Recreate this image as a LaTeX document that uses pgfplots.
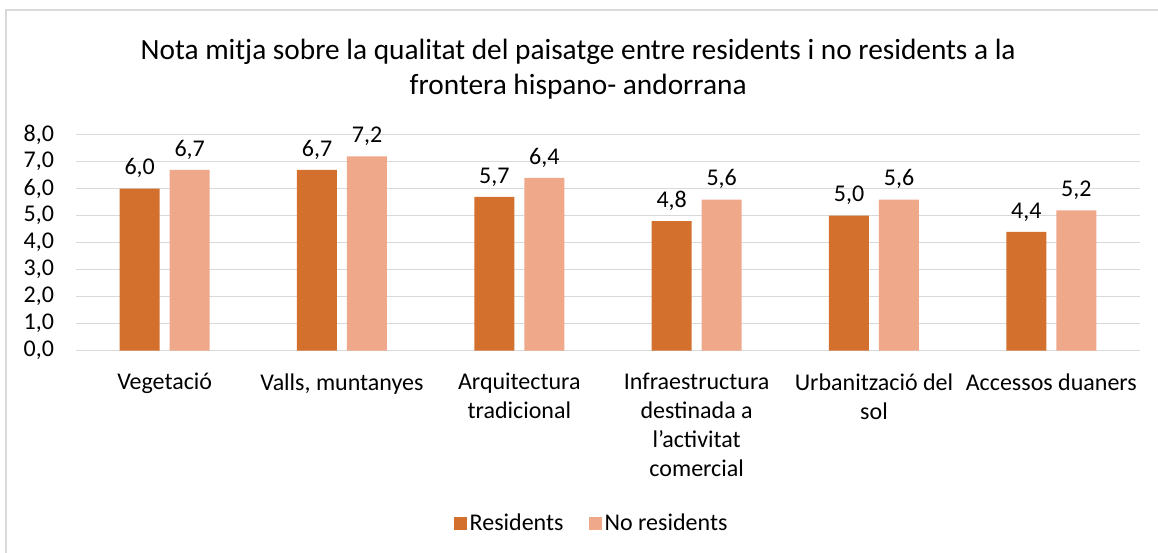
\documentclass[border=0pt]{standalone}
\usepackage{pgfplots}
\pgfplotsset{compat=1.18}
\usepackage{fontspec}
\setmainfont{Carlito}
\definecolor{res}{HTML}{D3702D}
\definecolor{nores}{HTML}{F0A88A}
\definecolor{grd}{HTML}{D9D9D9}

\begin{document}
\begin{tikzpicture}
\path[use as bounding box] (0,0) rectangle (868.5pt,414.75pt);
\draw[grd, line width=1.1pt] (4.5pt,0) -- (4.5pt,407.25pt) -- (868.5pt,407.25pt);
\begin{axis}[
    at={(57pt,151.7pt)}, anchor=south west,
    width=798pt, height=162pt, scale only axis,
    ybar=7.5pt, bar width=30pt,
    xmin=-0.5, xmax=5.5, ymin=0, ymax=8,
    xtick={0,...,5},
    xticklabels={Vegetació, {Valls, muntanyes}, Arquitectura\\tradicional,
        Infraestructura\\destinada a\\l’activitat\\comercial,
        Urbanització del\\sol, Accessos duaners},
    ytick={0,...,8},
    yticklabel={\pgfmathprintnumber[fixed,fixed zerofill,precision=1,use comma]{\tick}},
    /pgf/number format/assume math mode=true,
    major tick length=0pt,
    axis line style={draw=none},
    ymajorgrids, grid style={grd, line width=1.1pt},
    font=\fontsize{18pt}{21.75pt}\selectfont,
    xticklabel style={align=center, yshift=-13.5pt, font=\fontsize{18pt}{21.75pt}\selectfont},
    yticklabel style={xshift=-13pt},
    nodes near coords={\pgfmathprintnumber[fixed,fixed zerofill,precision=1,use comma]{\pgfplotspointmeta}},
    nodes near coords style={font=\fontsize{18pt}{21.75pt}\selectfont, yshift=4.5pt},
    title={Nota mitja sobre la qualitat del paisatge entre residents i no residents a la\\frontera hispano- andorrana},
    title style={at={(0.472,1.268)}, anchor=center, align=center,
        font=\fontsize{22pt}{26.25pt}\selectfont},
    legend columns=2,
    legend style={draw=none, at={(0.485,-0.798)}, anchor=center,
        font=\fontsize{18pt}{21.75pt}\selectfont,
        /tikz/every even column/.append style={column sep=17pt}},
    legend image code/.code={\fill[#1] (-2.5pt,-4.9pt) rectangle (7.3pt,4.9pt);},
]
\addplot[fill=res, draw=none] coordinates {(0,6.0) (1,6.7) (2,5.7) (3,4.8) (4,5.0) (5,4.4)};
\addlegendentry{Residents}
\addplot[fill=nores, draw=none] coordinates {(0,6.7) (1,7.2) (2,6.4) (3,5.6) (4,5.6) (5,5.2)};
\addlegendentry{No residents}
\end{axis}
\end{tikzpicture}
\end{document}
